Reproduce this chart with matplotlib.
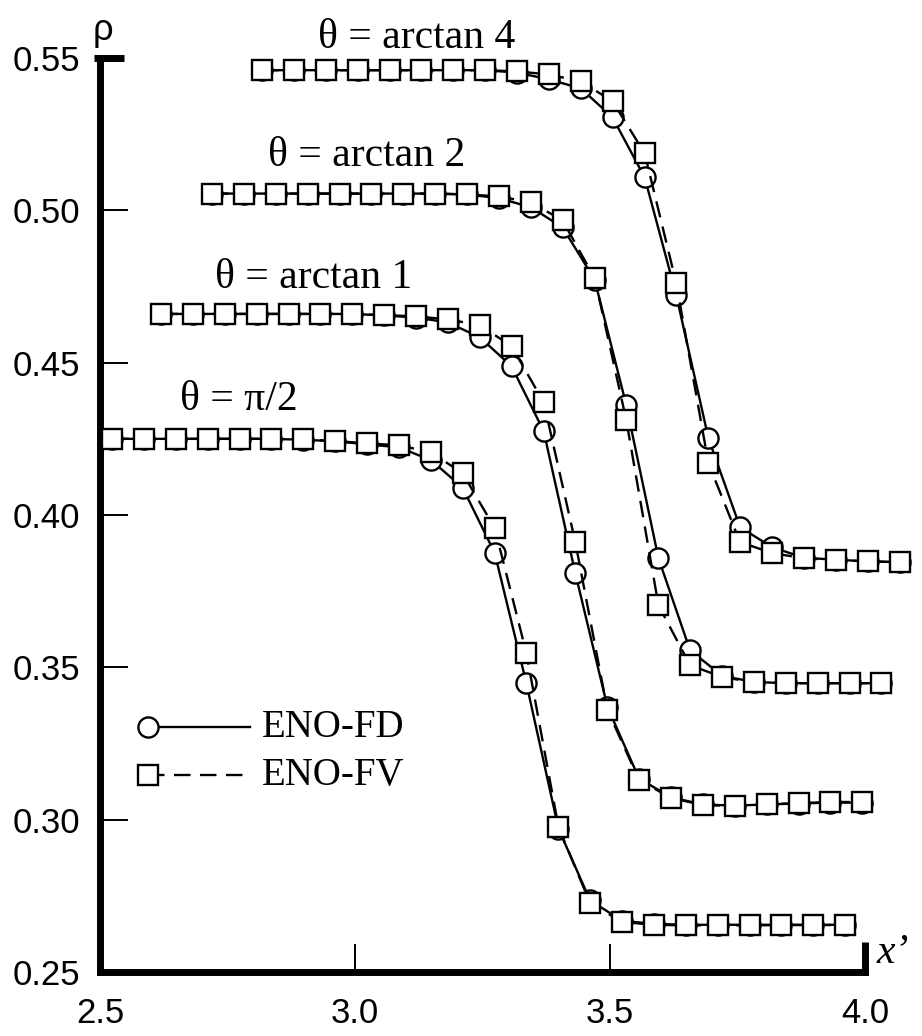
import matplotlib
matplotlib.use("Agg")
import matplotlib.pyplot as plt

# ---------------- data ----------------
x_pi2 = [2.524, 2.586, 2.649, 2.711, 2.774, 2.836, 2.899, 2.961, 3.024, 3.086, 3.149, 3.211,
         3.274, 3.336, 3.399, 3.461, 3.524, 3.586, 3.649, 3.711, 3.774, 3.836, 3.899, 3.961]
fd_pi2 = [0.425, 0.425, 0.425, 0.425, 0.425, 0.425, 0.4247, 0.4242, 0.4232, 0.4222, 0.418, 0.409,
          0.3875, 0.3448, 0.297, 0.2735, 0.2668, 0.2658, 0.2655, 0.2655, 0.2655, 0.2655, 0.2655, 0.2655]
fv_pi2 = [0.425, 0.425, 0.425, 0.425, 0.425, 0.425, 0.4248, 0.4243, 0.4235, 0.4229, 0.4206, 0.4137,
          0.3957, 0.3547, 0.2976, 0.2726, 0.2664, 0.2655, 0.2653, 0.2653, 0.2653, 0.2654, 0.2654, 0.2654]

x_a1 = [2.620, 2.682, 2.745, 2.807, 2.870, 2.932, 2.995, 3.057, 3.120, 3.182, 3.245, 3.307,
        3.370, 3.432, 3.495, 3.557, 3.620, 3.682, 3.745, 3.807, 3.870, 3.932, 3.995]
fd_a1 = [0.466, 0.466, 0.466, 0.466, 0.466, 0.466, 0.466, 0.4655, 0.4648, 0.4632, 0.4583, 0.4488,
         0.4275, 0.3809, 0.337, 0.3135, 0.3073, 0.305, 0.3046, 0.305, 0.3053, 0.3056, 0.3056]
fv_a1 = [0.466, 0.466, 0.466, 0.466, 0.466, 0.466, 0.466, 0.4656, 0.4652, 0.4642, 0.4623, 0.4554,
         0.437, 0.3911, 0.336, 0.313, 0.3071, 0.3048, 0.3045, 0.3051, 0.3054, 0.3058, 0.3058]

x_a2 = [2.720, 2.782, 2.845, 2.907, 2.970, 3.032, 3.095, 3.157, 3.220, 3.282, 3.345, 3.407,
        3.470, 3.532, 3.595, 3.657, 3.720, 3.782, 3.845, 3.907, 3.970, 4.032]
fd_a2 = [0.5055, 0.5055, 0.5055, 0.5055, 0.5055, 0.5055, 0.5055, 0.5055, 0.5052, 0.504, 0.501, 0.4944,
         0.4772, 0.436, 0.3858, 0.3556, 0.3472, 0.3452, 0.3448, 0.3448, 0.3448, 0.3448]
fv_a2 = [0.5055, 0.5055, 0.5055, 0.5055, 0.5055, 0.5055, 0.5055, 0.5055, 0.5052, 0.5046, 0.5026, 0.4967,
         0.4777, 0.4311, 0.3704, 0.3507, 0.3468, 0.3451, 0.3448, 0.3448, 0.3448, 0.3448]

x_a4 = [2.818, 2.880, 2.943, 3.005, 3.068, 3.130, 3.193, 3.255, 3.318, 3.380, 3.443, 3.505,
        3.568, 3.630, 3.693, 3.755, 3.818, 3.880, 3.943, 4.005, 4.068]
fd_a4 = [0.546, 0.546, 0.546, 0.546, 0.546, 0.546, 0.546, 0.546, 0.5452, 0.543, 0.540, 0.5305,
         0.5108, 0.4721, 0.4252, 0.396, 0.3894, 0.386, 0.3853, 0.3848, 0.3845]
fv_a4 = [0.546, 0.546, 0.546, 0.546, 0.546, 0.546, 0.546, 0.546, 0.5456, 0.5446, 0.5423, 0.5358,
         0.5187, 0.476, 0.417, 0.3911, 0.3875, 0.3858, 0.3852, 0.3848, 0.3845]

curve_labels = ["\u03b8 = \u03c0/2", "\u03b8 = arctan 1", "\u03b8 = arctan 2", "\u03b8 = arctan 4"]
label_pos = [(2.773, 0.4377), (2.918, 0.478), (3.022, 0.518), (3.12, 0.5568)]

xticks = [2.5, 3.0, 3.5, 4.0]
xticklabels = ["2.5", "3.0", "3.5", "4.0"]
yticks = [0.25, 0.30, 0.35, 0.40, 0.45, 0.50, 0.55]
yticklabels = ["0.25", "0.30", "0.35", "0.40", "0.45", "0.50", "0.55"]

# ---------------- figure ----------------
W, H = 922, 1036
fig = plt.figure(figsize=(W / 100, H / 100), dpi=100)
L, R, T, B = 100, 865, 58, 972
ax = fig.add_axes([L / W, (H - B) / H, (R - L) / W, (B - T) / H])

serif = ["Liberation Serif", "DejaVu Serif"]
sans = ["Liberation Sans", "DejaVu Sans"]

ms = 14.5
mew = 1.7
lw = 1.7
dash = (7, 4)

series = [(x_pi2, fd_pi2, fv_pi2), (x_a1, fd_a1, fv_a1), (x_a2, fd_a2, fv_a2), (x_a4, fd_a4, fv_a4)]
for xs, fd, fv in series:
    ax.plot(xs, fd, '-', color='black', lw=lw, marker='o', ms=ms, mfc='white', mec='black',
            mew=mew, clip_on=False, zorder=3)
    ax.plot(xs, fv, '--', color='black', lw=lw, dashes=dash, marker='s', ms=ms - 0.5, mfc='white',
            mec='black', mew=mew, clip_on=False, zorder=4)

for txt, (tx, ty) in zip(curve_labels, label_pos):
    ax.text(tx, ty, txt, family=serif, fontsize=30, ha='center', va='center')

ax.set_xlim(2.5, 4.0)
ax.set_ylim(0.25, 0.55)
ax.set_xticks(xticks)
ax.set_xticklabels(xticklabels)
ax.set_yticks(yticks)
ax.set_yticklabels(yticklabels)
for lab in ax.get_xticklabels() + ax.get_yticklabels():
    lab.set_family(sans)
    lab.set_fontsize(25)

ax.tick_params(axis='both', direction='in', length=20, width=1.4, color='black')
ax.tick_params(axis='x', pad=18)
ax.tick_params(axis='y', pad=14)
# hide ticks at the ends (drawn as thick caps instead)
xt = ax.xaxis.get_major_ticks()
xt[0].tick1line.set_visible(False)
xt[-1].tick1line.set_visible(False)
yt = ax.yaxis.get_major_ticks()
yt[0].tick1line.set_visible(False)
yt[-1].tick1line.set_visible(False)

for s in ['top', 'right']:
    ax.spines[s].set_visible(False)
for s in ['left', 'bottom']:
    ax.spines[s].set_linewidth(5)
    ax.spines[s].set_capstyle('projecting')

# thick end caps
ax.plot([-0.008, 0.032], [1, 1], transform=ax.transAxes, color='black', lw=5,
        solid_capstyle='butt', clip_on=False)
ax.plot([1, 1], [-0.003, 0.033], transform=ax.transAxes, color='black', lw=5,
        solid_capstyle='butt', clip_on=False)

# axis names
ax.text(0.004, 1.03, "\u03c1", transform=ax.transAxes, family=sans, fontsize=26,
        ha='center', va='center')
ax.text(1.015, 0.021, "x\u2019", transform=ax.transAxes, family=serif, style='italic',
        fontsize=30, ha='left', va='center')

# legend (manual)
lx0, lx1, ltx = 0.0627, 0.196, 0.212
ly1, ly2 = 0.268, 0.2155
ax.plot([lx0, lx1], [ly1, ly1], transform=ax.transAxes, color='black', lw=lw, clip_on=False)
ax.plot([lx0], [ly1], transform=ax.transAxes, marker='o', ms=ms, mfc='white', mec='black',
        mew=mew, clip_on=False)
ax.plot([lx0, lx1], [ly2, ly2], transform=ax.transAxes, color='black', lw=lw, ls='--',
        dashes=dash, clip_on=False)
ax.plot([lx0], [ly2], transform=ax.transAxes, marker='s', ms=ms - 0.5, mfc='white', mec='black',
        mew=mew, clip_on=False)
ax.text(ltx, ly1, "ENO-FD", transform=ax.transAxes, family=serif, fontsize=28, ha='left', va='center')
ax.text(ltx, ly2, "ENO-FV", transform=ax.transAxes, family=serif, fontsize=28, ha='left', va='center')

fig.savefig("out.png", dpi=100)
